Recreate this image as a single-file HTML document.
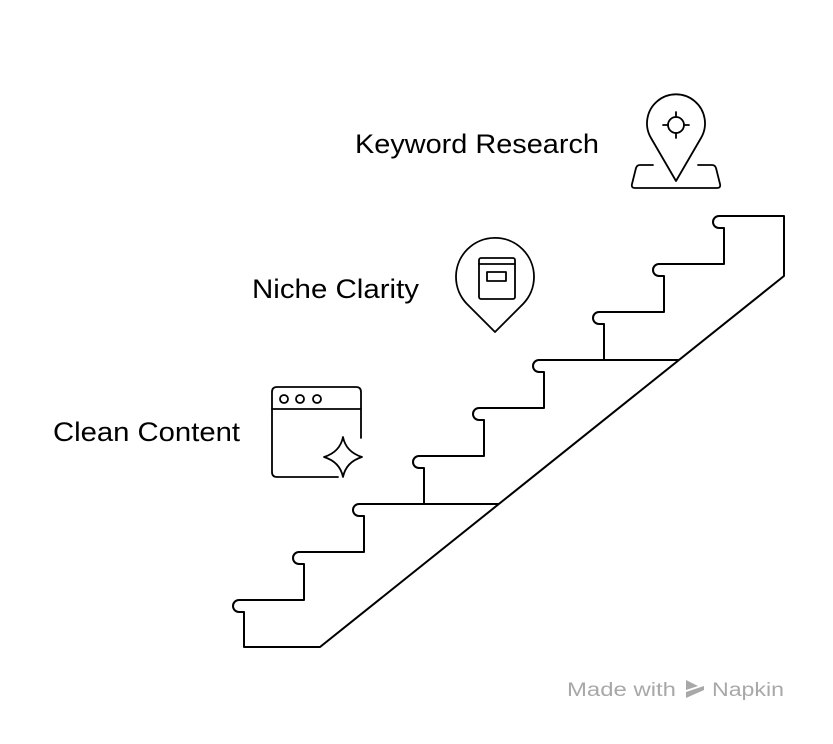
<!DOCTYPE html>
<html><head><meta charset="utf-8"><style>
html,body{margin:0;padding:0;background:#fff;}
svg{display:block;}
text{font-family:"Liberation Sans",sans-serif;}
</style></head><body>
<svg width="833" height="744" viewBox="0 0 833 744" xmlns="http://www.w3.org/2000/svg">
<g fill="none" stroke="#000" stroke-width="2" stroke-linejoin="round">
<path d="M320,647 L244,647 L244,612 L239,612 A6,6 0 0 1 239,600 L304,600 L304,564 L299,564 A6,6 0 0 1 299,552 L364,552 L364,516 L359,516 A6,6 0 0 1 359,504 L424,504 L424,468 L419,468 A6,6 0 0 1 419,456 L484,456 L484,420 L479,420 A6,6 0 0 1 479,408 L544,408 L544,372 L539,372 A6,6 0 0 1 539,360 L604,360 L604,324 L599,324 A6,6 0 0 1 599,312 L664,312 L664,276 L659,276 A6,6 0 0 1 659,264 L724,264 L724,228 L719,228 A6,6 0 0 1 719,216 L784,216 L784,276 Z"/>
<line x1="424" y1="504" x2="499" y2="504"/>
<line x1="604" y1="360" x2="679" y2="360"/>
</g>
<g fill="none" stroke="#000" stroke-width="1.8" stroke-linejoin="round" stroke-linecap="round">
<!-- keyword pin -->
<path d="M676,181 L651,138 A29,29 0 1 1 701,138 Z"/>
<circle cx="676" cy="125" r="8"/>
<path d="M676,112 V117 M676,133 V138 M663,125 H668 M684,125 H689"/>
<path d="M653,165 H640 Q637,165 636,168 L632,184 Q631,188 635,188 H717 Q721,188 720,184 L716,168 Q715,165 712,165 H698"/>
<!-- niche pin -->
<path d="M495,332 L467,304 A39,39 0 1 1 523,304 Z"/>
<rect x="479" y="258" width="36" height="41" rx="2"/>
<path d="M479,264 H515"/>
<rect x="487" y="272" width="19" height="9"/>
<!-- clean content window -->
<path d="M361,438 V392 Q361,387 356,387 H277 Q272,387 272,392 V472 Q272,477 277,477 H338"/>
<path d="M272,409 H361"/>
<circle cx="284" cy="399" r="4"/>
<circle cx="300" cy="399" r="4"/>
<circle cx="317" cy="399" r="4"/>
<path d="M343,437 Q346,452 362,457 Q346,462 343,477 Q340,462 324,457 Q340,452 343,437 Z"/>
</g>
<text x="355" y="153" font-size="27" textLength="244" lengthAdjust="spacingAndGlyphs">Keyword Research</text>
<text x="252" y="298" font-size="27" textLength="167" lengthAdjust="spacingAndGlyphs">Niche Clarity</text>
<text x="53" y="441" font-size="27" textLength="187" lengthAdjust="spacingAndGlyphs">Clean Content</text>
<text x="567" y="696" font-size="19" fill="#a8a8a8" textLength="109" lengthAdjust="spacingAndGlyphs">Made with</text>
<g fill="#a8a8a8"><path d="M686,680 L698,686 L686,690 Z M686,692 L704,686 L704,690 L686,698 Z"/></g>
<text x="712" y="696" font-size="19" fill="#a8a8a8" textLength="72" lengthAdjust="spacingAndGlyphs">Napkin</text>
</svg>
</body></html>
